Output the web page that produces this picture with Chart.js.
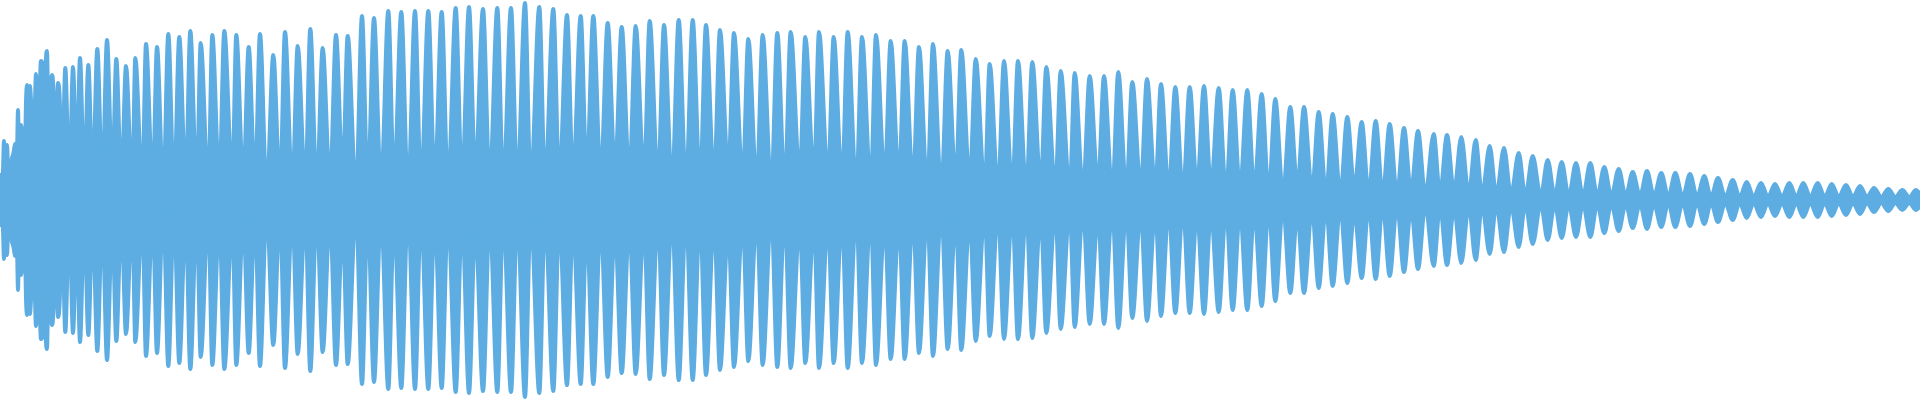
<!DOCTYPE html>
<html>
<head>
<meta charset="utf-8">
<script src="https://cdn.jsdelivr.net/npm/chart.js@4/dist/chart.umd.min.js"></script>
<style>
  html, body { margin: 0; padding: 0; background: #fff; }
  #wrap { width: 1920px; height: 400px; }
</style>
</head>
<body>
<div id="wrap"><canvas id="wave"></canvas></div>
<script>
// onset: one value per column, columns 0..62
const onsetAmp = [27, 20, 17, 30, 59, 40, 27, 55, 35, 32, 37, 36, 42, 45, 50, 56, 35, 45, 90, 40,
  30, 75, 70, 69, 20, 46, 98, 115, 62, 30, 114, 100, 87, 47, 56, 99, 126, 109, 80, 43,
  115, 139, 138, 72, 25, 104, 142, 149, 100, 34, 57, 111, 125, 118, 85, 24, 53, 96, 117, 113,
  92, 46, 22];

// lobe tops
const lobeX = [65.3, 73, 80, 88.3, 97.3, 107, 116.3, 126, 135.3, 146, 157, 168.3, 179.3, 190.3, 200.7,
  212.3, 224.3, 236.3, 248.7, 260, 273.3, 285, 297.7, 310.3, 322.7, 336, 347.7, 362, 374,
  388.3, 401.3, 415, 428.3, 441.7, 455.7, 469, 483, 497.3, 511, 525, 539.3, 553.3, 567, 580.7,
  593.3, 607.7, 621.7, 635.7, 649.7, 664, 678.7, 692.7, 706, 720, 734, 748.3, 762.7,
  777.3, 790.7, 805.3, 819, 833.7, 847.7, 862, 876, 890.7, 904.7, 919, 933, 947.7, 961.3,
  975.7, 989.7, 1004, 1018, 1032.3, 1046.3, 1060.7, 1074.7, 1089.7, 1104, 1118.3, 1132.3, 1147,
  1161, 1175.3, 1189.7, 1204, 1218.7, 1232.7, 1247.3, 1261.7, 1275.3, 1290.3, 1304, 1318.7,
  1332.7, 1347.3, 1361.7, 1375.7, 1389.7, 1404, 1418, 1433.7, 1447, 1461.3, 1475.7, 1489.7,
  1504, 1518.7, 1532.7,
  1547.7, 1561.7, 1576, 1590.3, 1604.3, 1618.7, 1632.7, 1647, 1661.3, 1675.3, 1690, 1704.3,
  1718, 1732.7, 1746.7, 1761, 1775, 1789.3, 1803.3, 1817.7, 1831.7, 1846, 1860, 1874, 1888.3,
  1902.3, 1916];
const lobePeak = [132, 133, 142, 135, 151, 160, 141, 134, 142, 156, 153, 166, 163, 169, 157,
  165, 169, 165, 153, 166, 145, 168, 154, 171, 152, 165, 164, 184, 182,
  189, 188, 189, 189, 188, 192, 193, 191, 192, 192, 197, 193, 191, 185, 184,
  184, 177, 173, 174, 179, 175, 180, 180, 175, 170, 167, 161, 165,
  167, 168, 163, 168, 163, 168, 163, 165, 159, 159, 153, 156, 149, 150,
  141, 136, 139, 139, 138, 133, 129, 127, 124, 124, 128, 118, 121,
  116, 113, 113, 114, 112, 110, 110, 106, 101, 93, 93, 88,
  86, 83, 78, 79, 76, 72, 69, 66, 65, 63, 60, 54,
  52, 47, 44,
  40, 38, 37, 37, 33, 31, 28, 29, 27, 27, 26, 24,
  22, 20, 18, 17, 16, 17, 17, 17, 16, 15, 14, 12, 11,
  10, 10];

// dips between lobes
const gapX = [69.3, 76.7, 84.3, 92.7, 102.3, 112.3, 121.3, 132.3, 142.3, 152.7, 163.3, 174, 185.7,
  196.7, 208.3, 219.3, 232.3, 243.3, 255, 266.7, 280, 292.3, 305.3, 316.7, 330, 342.7, 356, 367.7, 381,
  394, 408, 421, 434.7, 448, 462, 475.3, 489.7, 503.3, 517.3, 530.7, 545, 559.3, 573, 586.7,
  600.7, 615, 629.3, 644, 658, 672, 686, 700, 714, 728.3, 742.7, 756.7,
  771.3, 784.7, 799.7, 814, 828, 842, 856.3, 870.7, 884.7, 899, 913, 927.3, 941.3, 955.7,
  969.7, 984.7, 998, 1012.3, 1026.3, 1040.7, 1055.3, 1069.7, 1083, 1098, 1112.3, 1126.3, 1140.7,
  1155.3, 1168.7, 1183, 1197, 1211, 1226, 1240, 1254.3, 1268.7, 1283, 1297.3, 1312, 1326,
  1340.3, 1354.3, 1368.7, 1382.7, 1397, 1411, 1425.3, 1440, 1454, 1468.7, 1482, 1496.3, 1511, 1525.3,
  1540.7, 1554.7, 1568.7, 1583, 1597.3, 1611.3, 1625.7, 1640, 1654, 1668.3, 1682.7, 1697,
  1711, 1725.3, 1739.7, 1753.7, 1768, 1782, 1796.3, 1810.3, 1824.7, 1838.7, 1853, 1867,
  1881.3, 1895.3, 1909.3, 1920];
const gapAmp = [12, 30, 15, 18, 15, 21, 15, 11, 12, 14, 9, 10, 16,
  12, 12, 17, 19, 18, 15, 8, 12, 11, 14, 10, 16, 24, 7, 13, 13,
  17, 7, 12, 17, 13, 17, 25, 17, 14, 14, 14, 16, 18, 22, 25,
  23, 28, 23, 24, 19, 15, 14, 16, 20, 28, 20, 16,
  12, 13, 23, 23, 22, 18, 12, 14, 22, 21, 17, 12, 10, 18,
  18, 12, 10, 11, 10, 15, 11, 9, 10, 15, 8, 9, 12,
  11, 9, 8, 12, 13, 8, 11, 11, 7, 6, 13, 9, 6,
  6, 11, 6, 5, 5, 8, 5, 6, 8, 6, 5, 5, 5, 4,
  4, 4, 4, 4, 4, 4, 4, 4, 4, 3, 3, 3,
  3, 3, 3, 3, 3, 3, 3, 3, 3, 3, 3, 3,
  3, 3, 3, 6];

const waveColor = '#5dade2';

let upper = onsetAmp.map((v, i) => ({ x: i, y: v }));
lobeX.forEach((x, i) => upper.push({ x: x, y: lobePeak[i] }));
gapX.forEach((x, i) => upper.push({ x: x, y: gapAmp[i] }));
upper.sort((a, b) => a.x - b.x);
const lower = upper.map(p => ({ x: p.x, y: -p.y }));

const ctx = document.getElementById('wave').getContext('2d');
new Chart(ctx, {
  type: 'line',
  data: {
    datasets: [
      { data: upper, fill: 'origin', backgroundColor: waveColor, borderColor: waveColor },
      { data: lower, fill: 'origin', backgroundColor: waveColor, borderColor: waveColor }
    ]
  },
  options: {
    responsive: true,
    maintainAspectRatio: false,
    animation: false,
    events: [],
    layout: { padding: 0 },
    elements: {
      point: { radius: 0 },
      // thick stroke widens the lobes like the dense sample columns do
      line: { borderWidth: 4, borderJoinStyle: 'round', cubicInterpolationMode: 'monotone' }
    },
    scales: {
      x: { type: 'linear', min: 0, max: 1920, display: false },
      y: { min: -200, max: 200, display: false }
    },
    plugins: { legend: { display: false }, tooltip: { enabled: false } }
  }
});
</script>
</body>
</html>
